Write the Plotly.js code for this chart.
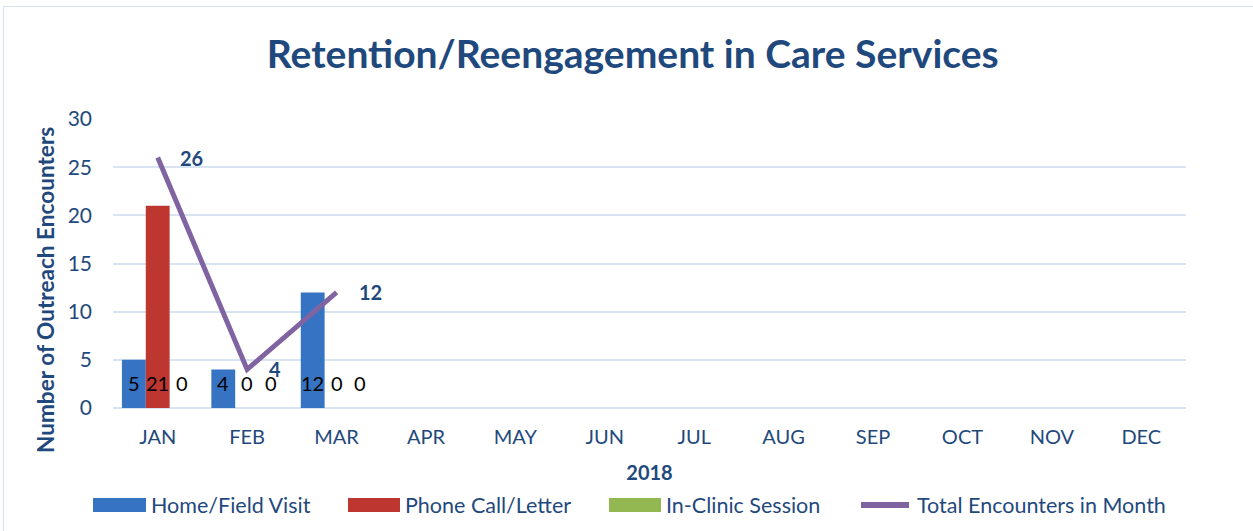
<!DOCTYPE html>
<html>
<head>
<meta charset="utf-8">
<script src="https://cdn.plot.ly/plotly-3.0.1.min.js"></script>
<style>
  html, body { margin: 0; padding: 0; background: #fff; overflow: hidden; }
  #frame { position: absolute; left: 3px; top: 6px; width: 1400px; height: 700px; border: 1.5px solid #D6E3F3; box-sizing: border-box; }
  #chart { position: absolute; left: 0; top: 0; width: 1253px; height: 531px; }
</style>
</head>
<body>
<div id="frame"></div>
<div id="chart"></div>
<script>
const months = ["JAN","FEB","MAR","APR","MAY","JUN","JUL","AUG","SEP","OCT","NOV","DEC"];
const dataMonths = ["JAN","FEB","MAR"];
const homeField = [5, 4, 12];
const phoneLetter = [21, 0, 0];
const inClinic = [0, 0, 0];
const totalEncounters = [26, 4, 12];
const seriesNames = ["Home/Field Visit", "Phone Call/Letter", "In-Clinic Session", "Total Encounters in Month"];
const seriesColors = ["#3673C2", "#BD3630", "#93B852", "#8064A2"];
const yTitle = "Number of Outreach Encounters";
const xTitle = "2018";

const FONT = "Lato, 'Open Sans', sans-serif";
const DARK = "#1F497D";
const GRID = "#D9E4F2";

const W = 1253, H = 531;
const M = { l: 113, r: 67, t: 119, b: 123 };
const plotW = W - M.l - M.r, plotH = H - M.t - M.b;
const px2x = px => (px - M.l) / plotW;
const py2y = py => (H - M.b - py) / plotH;

const barSeries = [homeField, phoneLetter, inClinic];
const traces = barSeries.map((vals, i) => ({
  type: "bar",
  name: seriesNames[i],
  x: dataMonths,
  y: vals,
  marker: { color: seriesColors[i], line: { width: 0 } },
  hoverinfo: "x+y+name"
}));
traces.push({
  type: "scatter",
  mode: "lines",
  name: seriesNames[3],
  x: dataMonths,
  y: totalEncounters,
  line: { color: seriesColors[3], width: 5 },
  hoverinfo: "x+y+name"
});
// keep all 12 months on the category axis
traces.push({ type: "scatter", x: months, y: months.map(() => null), showlegend: false, hoverinfo: "skip" });

const annotations = [];
const slot = 23.8; // px width of one bar within a group
barSeries.forEach((vals, s) => {
  vals.forEach((v, j) => {
    annotations.push({
      x: dataMonths[j], y: 0, xref: "x", yref: "y",
      text: String(v), showarrow: false,
      xshift: (s - 1) * slot, yanchor: "bottom", yshift: 11,
      font: { family: FONT, size: 20, color: "#000" }
    });
  });
});
totalEncounters.forEach((v, j) => {
  annotations.push({
    x: dataMonths[j], y: v, xref: "x", yref: "y",
    text: "<b>" + v + "</b>", showarrow: false,
    xanchor: "left", xshift: 20, yshift: 0,
    font: { family: FONT, size: 20, color: DARK }
  });
});

// y-axis title (placed like the original, a little below the plot centre)
annotations.push({
  xref: "paper", yref: "paper", x: px2x(45), y: py2y(290),
  xanchor: "center", yanchor: "middle", textangle: -90, showarrow: false,
  text: "<b>" + yTitle + "</b>", font: { family: FONT, size: 22.6, color: DARK }
});

// legend (drawn as shapes + text, wide swatches like the original)
const legendSwatchX = [[93, 146], [348, 400], [609, 661], [858, 912]];
const legendY = 505;
const shapes = [];
seriesNames.forEach((name, i) => {
  const [a, b] = legendSwatchX[i];
  if (i < 3) {
    shapes.push({
      type: "rect", xref: "paper", yref: "paper",
      x0: px2x(a), x1: px2x(b), y0: py2y(legendY + 7), y1: py2y(legendY - 7),
      fillcolor: seriesColors[i], line: { width: 0 }
    });
  } else {
    shapes.push({
      type: "line", xref: "paper", yref: "paper",
      x0: px2x(a + 3), x1: px2x(b - 3), y0: py2y(legendY), y1: py2y(legendY),
      line: { color: seriesColors[i], width: 6 }
    });
  }
  annotations.push({
    xref: "paper", yref: "paper", x: px2x(b + 3), y: py2y(legendY),
    xanchor: "left", yanchor: "middle", showarrow: false,
    text: name, font: { family: FONT, size: 21.5, color: DARK }
  });
});

const layout = {
  width: W, height: H,
  paper_bgcolor: "rgba(0,0,0,0)", plot_bgcolor: "rgba(0,0,0,0)",
  margin: { l: M.l, r: M.r, t: M.t, b: M.b, pad: 0 },
  title: {
    text: "<b>Retention/Reengagement in Care Services</b>",
    font: { family: FONT, size: 39, color: DARK },
    x: 0.505, xanchor: "center", y: 0.897, yanchor: "middle", yref: "container"
  },
  barmode: "group", bargap: 0.2, bargroupgap: 0,
  showlegend: false,
  xaxis: {
    type: "category", categoryorder: "array", categoryarray: months,
    range: [-0.5, 11.5],
    showgrid: false, zeroline: false, showline: false, ticks: "",
    tickfont: { family: FONT, size: 20, color: DARK },
    ticklabelstandoff: 15,
    title: { text: "<b>" + xTitle + "</b>", font: { family: FONT, size: 20, color: DARK }, standoff: 18 },
    fixedrange: true
  },
  yaxis: {
    range: [0, 30], dtick: 5, tick0: 0,
    showgrid: true, gridcolor: GRID, gridwidth: 2,
    zeroline: true, zerolinecolor: GRID, zerolinewidth: 2,
    showline: false, ticks: "",
    tickfont: { family: FONT, size: 21, color: DARK },
    ticklabelstandoff: 20,
    fixedrange: true
  },
  shapes: shapes,
  annotations: annotations
};

Plotly.newPlot("chart", traces, layout, { displayModeBar: false, staticPlot: true });
</script>
</body>
</html>
